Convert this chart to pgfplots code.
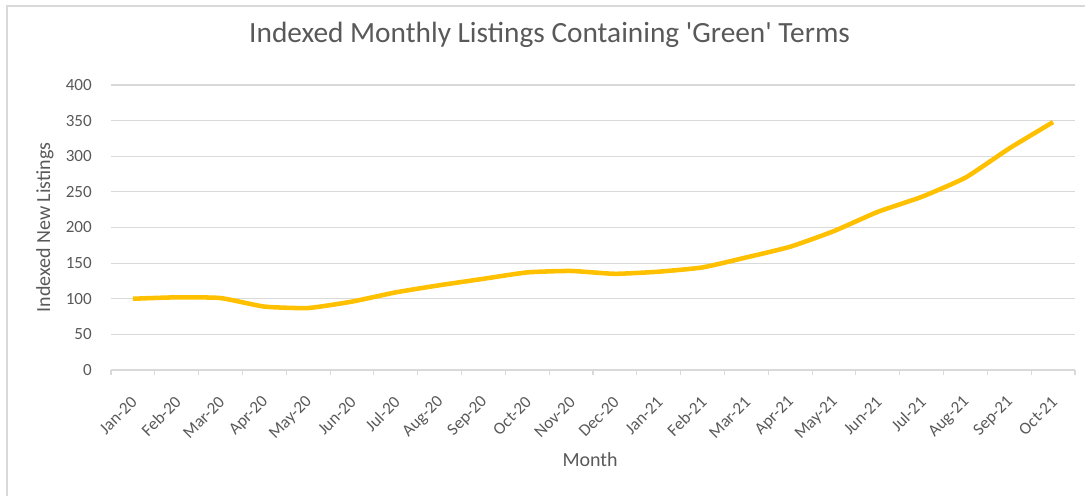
\documentclass[border=0pt]{standalone}
\usepackage{pgfplots}
\pgfplotsset{compat=1.18}
\usepackage{fontspec}
\setmainfont{Carlito}
\definecolor{txt}{HTML}{595959}
\definecolor{grd}{HTML}{D9D9D9}
\definecolor{gold}{HTML}{FFC000}
\begin{document}
\begin{tikzpicture}
\begin{axis}[
  name=ax,
  scale only axis,
  width=723pt, height=213.75pt,
  xmin=-0.5, xmax=21.5,
  ymin=0, ymax=400,
  ytick={0,50,...,400},
  xtick={0,...,21},
  xticklabels={Jan-20,Feb-20,Mar-20,Apr-20,May-20,Jun-20,Jul-20,Aug-20,Sep-20,Oct-20,Nov-20,Dec-20,
    Jan-21,Feb-21,Mar-21,Apr-21,May-21,Jun-21,Jul-21,Aug-21,Sep-21,Oct-21},
  minor xtick={-0.5,0.5,...,21.5},
  major tick length=0pt,
  minor tick length=4pt,
  tick align=outside,
  axis x line*=bottom,
  axis y line*=left,
  y axis line style={draw=none},
  x axis line style={draw=grd, line width=0.8pt, -},
  minor tick style={grd, line width=0.8pt},
  ymajorgrids,
  grid style={grd, line width=0.8pt},
  /pgf/number format/assume math mode=true,
  ticklabel style={font=\fontsize{12.8}{12.8}\selectfont, text=txt},
  yticklabel style={anchor=east, inner sep=0pt, xshift=-14.25pt},
  xticklabel style={xshift=1pt, yshift=-22pt, rotate=45, anchor=east, inner sep=0pt},
  xlabel={Month},
  ylabel={Indexed New Listings},
  label style={font=\fontsize{15}{15}\selectfont, text=txt},
  xlabel style={at={(axis description cs:0.497,-0.316)}, anchor=center},
  ylabel style={at={(axis description cs:-0.0685,0.5)}, anchor=center},
  title={Indexed Monthly Listings Containing \textquotesingle Green\textquotesingle{} Terms},
  title style={font=\fontsize{22}{22}\selectfont, text=txt, at={(axis description cs:0.455,1.147)}, anchor=center},
  clip=false,
]
\addplot[gold, line width=3.4pt, line join=round, smooth, tension=0.3] coordinates {
(0,100) (1,102) (2,101) (3,89) (4,87) (5,96) (6,109) (7,119) (8,128) (9,137) (10,139)
(11,135) (12,138) (13,144) (14,158) (15,173) (16,195) (17,222) (18,243) (19,270) (20,311) (21,348)
};
\end{axis}
\draw[grd, line width=0.8pt] ([shift={(-78pt,-94.5pt)}]ax.south west) -- ([shift={(-78pt,59.25pt)}]ax.north west) -- ([shift={(7.5pt,59.25pt)}]ax.north east);
\pgfresetboundingbox
\path ([shift={(-83.25pt,-94.5pt)}]ax.south west) rectangle ([shift={(7.5pt,63.75pt)}]ax.north east);
\end{tikzpicture}
\end{document}
